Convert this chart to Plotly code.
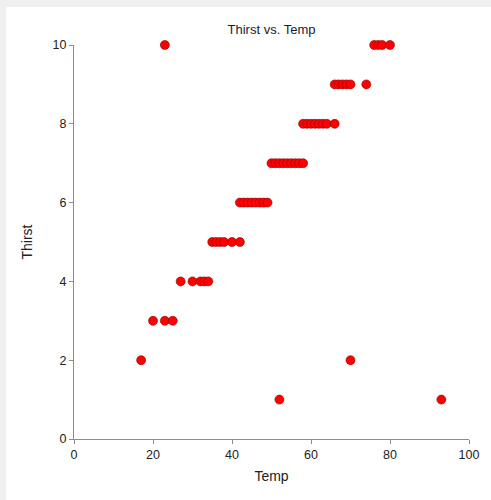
import plotly.graph_objects as go

temp = [23, 76, 77, 78, 80,
        66, 67, 68, 69, 70, 74,
        58, 59, 60, 61, 62, 63, 64, 66,
        50, 51, 52, 53, 54, 55, 56, 57, 58,
        42, 43, 44, 45, 46, 47, 48, 49,
        35, 36, 37, 38, 40, 42,
        27, 30, 32, 33, 34,
        20, 23, 25,
        17, 70,
        52, 93]
thirst = [10, 10, 10, 10, 10,
          9, 9, 9, 9, 9, 9,
          8, 8, 8, 8, 8, 8, 8, 8,
          7, 7, 7, 7, 7, 7, 7, 7, 7,
          6, 6, 6, 6, 6, 6, 6, 6,
          5, 5, 5, 5, 5, 5,
          4, 4, 4, 4, 4,
          3, 3, 3,
          2, 2,
          1, 1]
x_ticks = [0, 20, 40, 60, 80, 100]
y_ticks = [0, 2, 4, 6, 8, 10]

fig = go.Figure()
fig.add_trace(go.Scatter(
    x=temp, y=thirst, mode="markers", cliponaxis=False,
    marker=dict(size=9, color="#ff0000", line=dict(color="#8b0000", width=0.6)),
    showlegend=False, hoverinfo="x+y",
))

L, R, T, B = 74, 22, 45, 61
W, H = 491, 500
pw, ph = W - L - R, H - T - B
fig.add_shape(type="rect", xref="paper", yref="paper",
              x0=(6 - L) / pw, x1=(W + 5 - L) / pw,
              y0=-(B + 5) / ph, y1=(H - B - 7) / ph,
              fillcolor="white", line=dict(width=0), layer="below")

axis_common = dict(showline=True, linecolor="#8c8c8c", linewidth=1,
                   ticks="outside", ticklen=4, tickcolor="#8c8c8c",
                   showgrid=False, zeroline=False,
                   tickfont=dict(family="Liberation Sans, Arial", size=12.5, color="#222222"))

fig.update_layout(
    width=W, height=H,
    margin=dict(l=L, r=R, t=T, b=B),
    paper_bgcolor="#f0f0f0", plot_bgcolor="white",
    title=dict(text="Thirst vs. Temp", x=(L + pw / 2) / W, xanchor="center",
               y=1 - 29 / H, yanchor="middle",
               font=dict(family="Liberation Sans, Arial", size=13, color="#1a1a2e")),
    xaxis=dict(range=[0, 100], tickvals=x_ticks,
               title=dict(text="Temp", standoff=10,
                          font=dict(family="Liberation Sans, Arial", size=14, color="#222222")),
               **axis_common),
    yaxis=dict(range=[0, 10], tickvals=y_ticks,
               title=dict(text="Thirst", standoff=16,
                          font=dict(family="Liberation Sans, Arial", size=14, color="#222222")),
               **axis_common),
)

fig.write_html("out.html")
